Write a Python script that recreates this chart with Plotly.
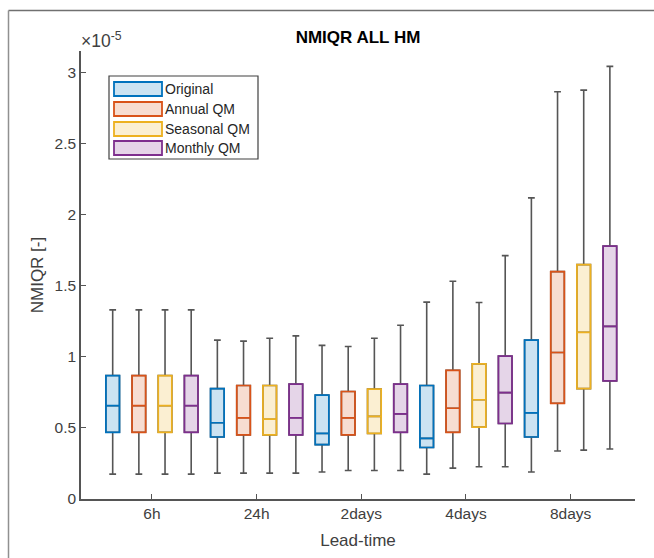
import plotly.graph_objects as go

# ---- data (values in units of 1e-5) ----
lead_times = ["6h", "24h", "2days", "4days", "8days"]
series = ["Original", "Annual QM", "Seasonal QM", "Monthly QM"]

upper = {
    "Original":    [1.33, 1.117, 1.08, 1.384, 2.117],
    "Annual QM":   [1.33, 1.11, 1.072, 1.531, 2.863],
    "Seasonal QM": [1.33, 1.13, 1.13, 1.382, 2.875],
    "Monthly QM":  [1.33, 1.147, 1.222, 1.711, 3.042],
}
q3 = {
    "Original":    [0.868, 0.776, 0.731, 0.798, 1.117],
    "Annual QM":   [0.868, 0.798, 0.756, 0.905, 1.599],
    "Seasonal QM": [0.868, 0.798, 0.773, 0.950, 1.648],
    "Monthly QM":  [0.868, 0.808, 0.808, 1.005, 1.778],
}
median = {
    "Original":    [0.656, 0.536, 0.461, 0.426, 0.606],
    "Annual QM":   [0.656, 0.571, 0.571, 0.638, 1.03],
    "Seasonal QM": [0.656, 0.561, 0.581, 0.698, 1.172],
    "Monthly QM":  [0.656, 0.571, 0.598, 0.748, 1.214],
}
q1 = {
    "Original":    [0.469, 0.436, 0.382, 0.362, 0.436],
    "Annual QM":   [0.469, 0.451, 0.451, 0.469, 0.673],
    "Seasonal QM": [0.469, 0.451, 0.461, 0.506, 0.776],
    "Monthly QM":  [0.469, 0.451, 0.469, 0.531, 0.83],
}
lower = {
    "Original":    [0.175, 0.182, 0.19, 0.175, 0.19],
    "Annual QM":   [0.175, 0.182, 0.2, 0.217, 0.337],
    "Seasonal QM": [0.175, 0.182, 0.2, 0.227, 0.344],
    "Monthly QM":  [0.175, 0.182, 0.2, 0.227, 0.352],
}
y_ticks = [0, 0.5, 1, 1.5, 2, 2.5, 3]
y_tick_labels = ["0", "0.5", "1", "1.5", "2", "2.5", "3"]

# ---- style ----
line_rgb = {
    "Original": (0, 114, 189),
    "Annual QM": (217, 83, 25),
    "Seasonal QM": (237, 177, 32),
    "Monthly QM": (126, 47, 142),
}
FILL_ALPHA = 0.2
whisker_color = "#555555"
FONT = "Liberation Sans, Arial, sans-serif"

W, H = 654, 558
AX_L, AX_R, AX_T, AX_B = 81, 635, 51, 499   # axes box in window pixels
L, R, T, B = AX_L, W - AX_R, AX_T, H - AX_B
PW, PH = AX_R - AX_L, AX_B - AX_T


def px(x):
    return (x - AX_L) / PW


def py(y):
    return (AX_B - y) / PH


fig = go.Figure()
ng = len(series)
for k, s in enumerate(series):
    xs = [g * ng + k + 1 for g in range(len(lead_times))]
    r, g_, b = line_rgb[s]
    # whiskers (grey)
    fig.add_trace(go.Box(
        x=xs, q1=q1[s], median=median[s], q3=q3[s],
        lowerfence=lower[s], upperfence=upper[s],
        width=0.52, whiskerwidth=0.5,
        line=dict(color=whisker_color, width=1.6),
        fillcolor="rgba(0,0,0,0)", showlegend=False, hoverinfo="skip",
    ))
    # coloured box
    fig.add_trace(go.Box(
        x=xs, q1=q1[s], median=median[s], q3=q3[s],
        lowerfence=q1[s], upperfence=q3[s],
        width=0.52, whiskerwidth=0,
        line=dict(color=f"rgb({r},{g_},{b})", width=1.7),
        fillcolor=f"rgba({r},{g_},{b},{FILL_ALPHA})", showlegend=False, name=s,
    ))

tick_pos = [g * ng + (ng + 1) / 2 for g in range(len(lead_times))]

fig.update_layout(
    width=W, height=H,
    margin=dict(l=L, r=R, t=T, b=B, autoexpand=False),
    paper_bgcolor="white", plot_bgcolor="white",
    boxmode="overlay",
    font=dict(family=FONT, color="#404040", size=15),
    title=dict(text="<b>NMIQR ALL HM</b>", x=px(358), xref="paper",
               y=1 - 37 / H, yanchor="middle", xanchor="center",
               font=dict(size=17, color="#000000", family=FONT)),
    xaxis=dict(
        range=[-0.211, 20.96], tickmode="array", tickvals=tick_pos,
        ticktext=lead_times, ticks="inside", ticklen=5, tickcolor="#555555",
        showline=True, linecolor="#555555", linewidth=1.5, showgrid=False,
        zeroline=False, automargin=False, tickfont=dict(size=15.5, color="#404040"),
        title=dict(text="Lead-time", font=dict(size=17, color="#404040"), standoff=13),
    ),
    yaxis=dict(
        range=[0, 3.15], tickmode="array", tickvals=y_ticks,
        ticktext=y_tick_labels, ticks="inside", ticklen=5, tickcolor="#555555",
        showline=True, linecolor="#555555", linewidth=1.5, showgrid=False,
        zeroline=False, automargin=False, tickfont=dict(size=15.5, color="#404040"),
        title=dict(text="NMIQR [-]", font=dict(size=17, color="#404040"), standoff=7),
    ),
)

shapes = []
annotations = []
# outer frame (top and left edges only)
shapes.append(dict(type="line", xref="paper", yref="paper",
                   x0=px(8.5), x1=px(700), y0=py(10.5), y1=py(10.5),
                   line=dict(color="#707070", width=1.5), layer="below"))
shapes.append(dict(type="line", xref="paper", yref="paper",
                   x0=px(8.5), x1=px(8.5), y0=py(10.5), y1=py(620),
                   line=dict(color="#909090", width=1.5), layer="below"))
# exponent label
annotations.append(dict(xref="paper", yref="paper", x=px(79), y=py(40),
                        xanchor="left", yanchor="middle", showarrow=False,
                        text="×10<sup>-5</sup>",
                        font=dict(size=17.5, color="#404040", family=FONT)))
# legend
shapes.append(dict(type="rect", xref="paper", yref="paper",
                   x0=px(109), x1=px(258), y0=py(159), y1=py(76),
                   line=dict(color="#404040", width=1.2), fillcolor="white"))
leg_y = [89, 109, 129, 148]
for s, yy in zip(series, leg_y):
    r, g_, b = line_rgb[s]
    shapes.append(dict(type="rect", xref="paper", yref="paper",
                       x0=px(114), x1=px(162), y0=py(yy + 7), y1=py(yy - 7),
                       line=dict(color=f"rgb({r},{g_},{b})", width=1.8),
                       fillcolor=f"rgba({r},{g_},{b},{FILL_ALPHA})"))
    annotations.append(dict(xref="paper", yref="paper", x=px(163), y=py(yy),
                            xanchor="left", yanchor="middle", showarrow=False,
                            text=s, font=dict(size=14, color="#262626", family=FONT)))

fig.update_layout(shapes=shapes, annotations=annotations)
fig.write_html(
    "out.html",
    config={"displayModeBar": False},
    post_script="document.body.style.margin='0';document.body.style.overflow='hidden';",
)
